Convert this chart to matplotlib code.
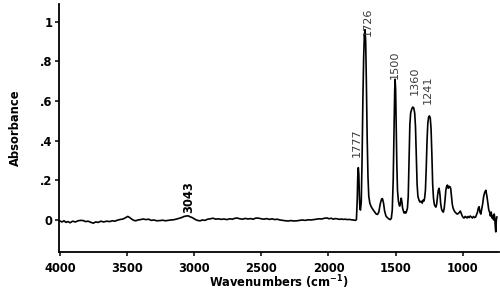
"""FTIR absorbance spectrum with labelled bands."""

import matplotlib
matplotlib.use("Agg")
import matplotlib.pyplot as plt

# spectrum (wavenumber in cm-1, absorbance)
wavenumbers = [
    4000, 3985, 3970, 3955, 3940, 3925, 3905, 3885, 3865, 3845, 3826, 3810,
    3790, 3770, 3751, 3735, 3715, 3695, 3675, 3652, 3630, 3610, 3590, 3577,
    3555, 3530, 3510, 3495, 3480, 3465, 3450, 3435, 3420, 3400, 3380, 3360,
    3340, 3320, 3300, 3280, 3255, 3235, 3215, 3195, 3175, 3155, 3135, 3115,
    3095, 3075, 3060, 3045, 3030, 3015, 3000, 2985, 2970, 2955, 2940, 2920,
    2900, 2880, 2860, 2840, 2820, 2800, 2780, 2756, 2735, 2715, 2700, 2681,
    2660, 2640, 2620, 2600, 2580, 2560, 2540, 2520, 2500, 2480, 2460, 2440,
    2420, 2400, 2383, 2360, 2340, 2320, 2300, 2280, 2260, 2234, 2215, 2195,
    2175, 2150, 2130, 2110, 2090, 2070, 2050, 2030, 2010, 1995, 1980, 1965,
    1950, 1935, 1920, 1905, 1890, 1875, 1860, 1845, 1830, 1815, 1800, 1792,
    1786, 1782, 1778, 1774, 1770, 1766, 1762, 1756, 1750, 1744, 1738, 1733,
    1728, 1723, 1718, 1712, 1706, 1700, 1692, 1684, 1676, 1666, 1655, 1645,
    1635, 1625, 1615, 1605, 1598, 1590, 1582, 1572, 1562, 1550, 1540, 1532,
    1525, 1518, 1512, 1507, 1504, 1500, 1496, 1491, 1486, 1480, 1475, 1470,
    1464, 1458, 1453, 1448, 1442, 1436, 1430, 1424, 1418, 1412, 1406, 1400,
    1394, 1388, 1380, 1372, 1365, 1358, 1352, 1346, 1340, 1334, 1326, 1318,
    1310, 1302, 1296, 1290, 1284, 1278, 1272, 1266, 1260, 1254, 1248, 1242,
    1236, 1230, 1224, 1218, 1212, 1206, 1200, 1194, 1188, 1182, 1176, 1170,
    1164, 1158, 1150, 1144, 1138, 1132, 1126, 1120, 1114, 1108, 1102, 1096,
    1090, 1084, 1078, 1072, 1066, 1058, 1050, 1042, 1034, 1026, 1018, 1012,
    1004, 996, 990, 982, 975, 968, 960, 952, 944, 936, 928, 920,
    912, 904, 896, 890, 884, 878, 872, 866, 860, 852, 844, 836,
    828, 820, 812, 806, 800, 794, 788, 782, 776, 770, 766, 762,
    757, 754, 750, 746,
]
absorbance = [
    -0.005, -0.010, -0.004, -0.012, -0.008, -0.014, -0.006, -0.010, -0.004, -0.002, -0.003, -0.008,
    -0.006, -0.012, -0.016, -0.010, -0.012, -0.006, -0.010, -0.006, -0.008, -0.004, -0.006, -0.002,
    0.002, 0.005, 0.012, 0.018, 0.012, 0.004, -0.002, -0.004, 0.000, 0.002, 0.005, 0.002,
    0.004, -0.002, 0.000, -0.004, -0.003, -0.001, -0.004, -0.002, 0.000, 0.001, 0.004, 0.008,
    0.012, 0.018, 0.020, 0.021, 0.016, 0.012, 0.006, 0.000, -0.003, -0.004, 0.000, -0.002,
    0.004, 0.006, 0.009, 0.004, 0.006, 0.003, 0.005, 0.002, 0.006, 0.004, 0.008, 0.010,
    0.006, 0.004, 0.008, 0.005, 0.007, 0.004, 0.010, 0.009, 0.006, 0.004, 0.007, 0.003,
    0.006, 0.002, 0.004, 0.000, -0.002, -0.004, -0.005, -0.003, -0.005, -0.004, -0.002, 0.000,
    -0.002, 0.001, 0.000, 0.002, 0.004, 0.006, 0.005, 0.009, 0.010, 0.006, 0.009, 0.004,
    0.007, 0.006, 0.003, 0.005, 0.003, 0.004, 0.002, 0.003, 0.001, 0.000, -0.002, 0.002,
    0.100, 0.220, 0.264, 0.230, 0.120, 0.060, 0.050, 0.090, 0.300, 0.600, 0.820, 0.930,
    0.960, 0.900, 0.700, 0.420, 0.220, 0.120, 0.085, 0.070, 0.060, 0.050, 0.040, 0.030,
    0.028, 0.040, 0.080, 0.105, 0.108, 0.085, 0.045, 0.020, 0.012, 0.005, 0.002, 0.008,
    0.050, 0.200, 0.450, 0.650, 0.710, 0.660, 0.480, 0.280, 0.150, 0.100, 0.080, 0.070,
    0.085, 0.110, 0.090, 0.060, 0.045, 0.035, 0.040, 0.035, 0.045, 0.060, 0.120, 0.300,
    0.480, 0.540, 0.560, 0.570, 0.565, 0.540, 0.470, 0.320, 0.180, 0.120, 0.100, 0.090,
    0.095, 0.085, 0.100, 0.095, 0.110, 0.150, 0.260, 0.400, 0.490, 0.520, 0.525, 0.515,
    0.460, 0.330, 0.180, 0.110, 0.080, 0.070, 0.065, 0.080, 0.120, 0.150, 0.160, 0.130,
    0.080, 0.055, 0.042, 0.040, 0.060, 0.100, 0.150, 0.170, 0.176, 0.160, 0.170, 0.168,
    0.160, 0.120, 0.080, 0.060, 0.050, 0.040, 0.035, 0.030, 0.032, 0.038, 0.045, 0.035,
    0.020, 0.012, 0.010, 0.018, 0.015, 0.010, 0.018, 0.012, 0.020, 0.015, 0.010, 0.018,
    0.012, 0.015, 0.030, 0.040, 0.060, 0.067, 0.040, 0.030, 0.050, 0.080, 0.120, 0.140,
    0.150, 0.120, 0.080, 0.050, 0.040, 0.020, 0.040, 0.010, 0.020, 0.000, 0.030, 0.015,
    -0.040, -0.060, 0.000, 0.015,
]

# labelled bands: label text, band position, peak height
peak_labels = ["3043", "1777", "1726", "1500", "1360", "1241"]
peak_wn = [3043, 1778, 1728, 1504, 1365, 1248]
peak_abs = [0.021, 0.264, 0.960, 0.710, 0.570, 0.525]

y_ticks = [0, 0.2, 0.4, 0.6, 0.8, 1.0]
y_tick_labels = ["0", ".2", ".4", ".6", ".8", "1"]
x_ticks = [4000, 3500, 3000, 2500, 2000, 1500, 1000]

fig = plt.figure(figsize=(5.0, 2.96), dpi=100)
ax = fig.add_axes([0.1186, 0.149, 0.8794, 0.837])

ax.plot(wavenumbers, absorbance, color="black", linewidth=1.2)

ax.set_xlim(4005, 730)
ax.set_ylim(-0.161, 1.089)
ax.set_xticks(x_ticks)
ax.set_yticks(y_ticks, labels=y_tick_labels)

for spine in ("top", "right"):
    ax.spines[spine].set_visible(False)
for spine in ("left", "bottom"):
    ax.spines[spine].set_linewidth(1.3)

ax.tick_params(axis="both", direction="out", length=3, width=1.1, pad=2,
               labelsize=8.3)
for lab in ax.get_xticklabels() + ax.get_yticklabels():
    lab.set_fontweight("bold")
ax.tick_params(axis="x", pad=4)

ax.set_xlabel("Wavenumbers (cm$^{\\mathregular{-1}}$)", fontsize=8.3,
              fontweight="bold", labelpad=-1)
ax.set_ylabel("Absorbance", fontsize=8.3, fontweight="bold", labelpad=13)

# label offsets in points relative to each peak top
offsets = [(0, 2), (-1, 8), (2.3, -4.3), (0, 0.5), (1, 8.5), (-1, 8.5)]
for i, text in enumerate(peak_labels):
    dx, dy = offsets[i]
    bold = text == "3043"
    ax.annotate(text, xy=(peak_wn[i], peak_abs[i]), xytext=(dx, dy),
                textcoords="offset points", rotation=90, ha="center",
                va="bottom", fontsize=8.3 if bold else 8.1,
                fontweight="bold" if bold else "normal",
                color="black" if bold else "#3a3a3a")

fig.savefig("out.png", dpi=100)
